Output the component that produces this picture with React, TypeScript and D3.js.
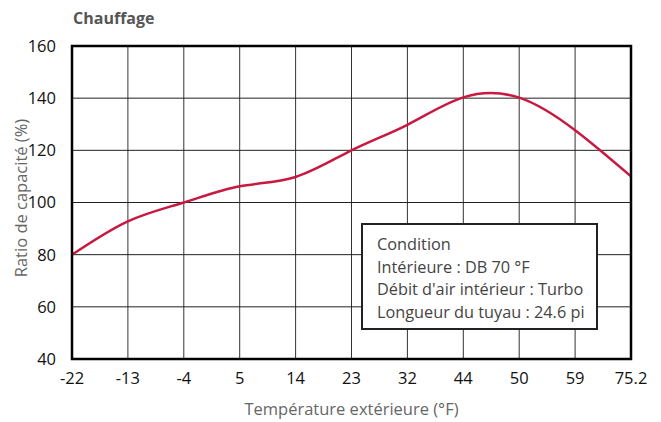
import React from "react";
import * as d3 from "d3";

// temperatures (categorical x) and capacity ratio
const temps = ["-22", "-13", "-4", "5", "14", "23", "32", "44", "50", "59", "75.2"];
const ratio = [80, 92.8, 100, 106.2, 109.8, 120, 129.8, 140.3, 140.2, 127.7, 110];
const yTicks = [40, 60, 80, 100, 120, 140, 160];
const legendLines = [
  "Condition",
  "Intérieure : DB 70 °F",
  "Débit d'air intérieur : Turbo",
  "Longueur du tuyau : 24.6 pi",
];

const W = 661;
const H = 422;
const m = { left: 72, right: 30, top: 46, bottom: 63 };
const font = "'Open Sans', 'Noto Sans', sans-serif";

export default function App() {
  const x = d3.scalePoint<string>().domain(temps).range([m.left, W - m.right]);
  const y = d3.scaleLinear().domain([40, 160]).range([H - m.bottom, m.top]);

  const line = d3
    .line<number>()
    .x((_, i) => x(temps[i]) as number)
    .y((d) => y(d))
    .curve(d3.curveNatural);

  const x0 = m.left;
  const x1 = W - m.right;
  const y0 = H - m.bottom;
  const y1 = m.top;

  return (
    <svg
      width={W}
      height={H}
      style={{ position: "absolute", left: 0, top: 0, background: "#fff" }}
      fontFamily={font}
    >
      <text x={73} y={24} fontSize={16} fontWeight="bold" fill="#555">
        Chauffage
      </text>

      {/* grid */}
      {temps.map((t) => (
        <line key={t} x1={x(t)} x2={x(t)} y1={y1} y2={y0} stroke="#333" strokeWidth={1} />
      ))}
      {yTicks.map((v) => (
        <line key={v} x1={x0} x2={x1} y1={y(v)} y2={y(v)} stroke="#222" strokeWidth={1} />
      ))}

      <path d={line(ratio) || ""} fill="none" stroke="#c81a40" strokeWidth={2.5} />

      {/* frame */}
      <rect x={x0} y={y1} width={x1 - x0} height={y0 - y1} fill="none" stroke="#000" strokeWidth={2.5} />

      {/* y tick labels */}
      {yTicks.map((v) => (
        <text key={v} x={56} y={y(v)} dy="0.36em" textAnchor="end" fontSize={16.5} fill="#111">
          {v}
        </text>
      ))}
      {/* x tick labels */}
      {temps.map((t) => (
        <text key={t} x={x(t)} y={384} textAnchor="middle" fontSize={16.5} fill="#111">
          {t}
        </text>
      ))}

      <text
        transform={`translate(27,198) rotate(-90)`}
        textAnchor="middle"
        fontSize={16.5}
        fill="#666"
      >
        Ratio de capacité (%)
      </text>
      <text x={(x0 + x1) / 2} y={415} textAnchor="middle" fontSize={16.5} fill="#666">
        Température extérieure (°F)
      </text>

      {/* condition box */}
      <rect x={362} y={224} width={235} height={105} fill="#fff" stroke="#222" strokeWidth={2} />
      {legendLines.map((s, i) => (
        <text key={s} x={377} y={250 + i * 22.7} fontSize={16.3} fill="#444">
          {s}
        </text>
      ))}
    </svg>
  );
}
